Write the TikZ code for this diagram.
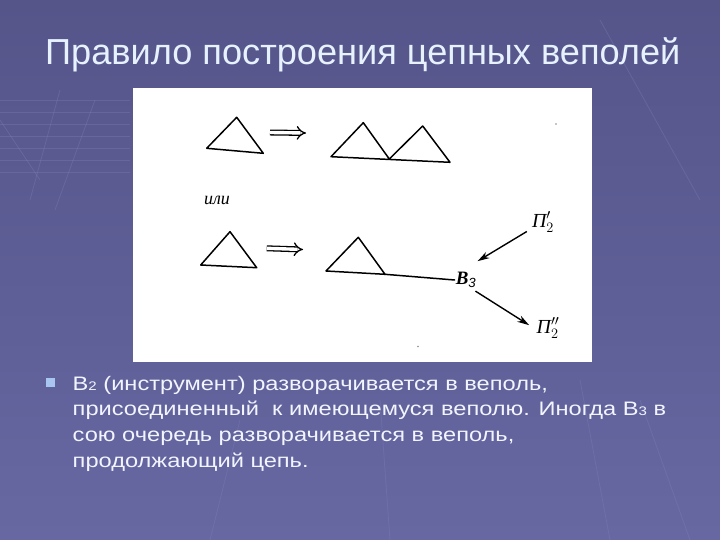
\documentclass[tikz,border=0pt]{standalone}
\usepackage{fontspec}
\setmainfont{Liberation Sans}
\newfontfamily\serifit{Liberation Serif}
\newfontfamily\bodyfont[FakeStretch=1.21]{Liberation Sans}
\usetikzlibrary{arrows.meta}
\definecolor{bgtop}{HTML}{55558A}
\definecolor{bgbot}{HTML}{6767A2}
\definecolor{titlecol}{HTML}{E6F2FF}
\definecolor{bodycol}{HTML}{F2F4FF}
\definecolor{bulletcol}{HTML}{A9C6F0}
\definecolor{gridcol}{HTML}{8080B8}
\tikzset{
  ln/.style={line width=1.5pt, line join=round, line cap=round},
  dbl/.style={double, double distance=3.4pt, line width=1.3pt, -{Implies[scale=1.7]}},
  sarrow/.style={line width=1.4pt, -{Stealth[length=12pt,width=7pt]}, shorten >=1pt},
  lab/.style={font=\serifit\itshape\fontsize{20}{22}\selectfont, inner sep=1pt},
  bodyline/.style={anchor=base west, inner sep=0, text=bodycol, font=\bodyfont\fontsize{19.6}{24}\selectfont},
  speck/.style={fill=black!45, draw=none}
}
\newcommand{\smalldig}[1]{{\fontsize{12.5}{14}\selectfont #1}}
\begin{document}
\begin{tikzpicture}[x=1bp, y=-1bp]
\useasboundingbox (0,0) rectangle (720,540);
% background
\shade[top color=bgtop, bottom color=bgbot] (0,0) rectangle (720,540);
\begin{scope}[draw=gridcol, opacity=0.35, line width=0.8pt]
  \foreach \yy in {100,112,124,136,148,160,172} \draw (0,\yy) -- (130,\yy);
  \draw (0,120) -- (40,180);
  \draw (60,90) -- (30,200);
  \draw (95,100) -- (55,210);
  \draw (600,20) -- (700,200);
  \draw (640,400) -- (690,540);
  \draw (580,380) -- (610,540);
  \draw (240,420) -- (210,540);
  \draw (380,400) -- (390,540);
\end{scope}
% title
\node[anchor=base west, inner sep=0, text=titlecol, font=\fontsize{36.3}{40}\selectfont] (title) at (45,65) {Правило построения цепных веполей};
% white diagram panel
\fill[white] (133,88) rectangle (592,362);
% top-left triangle
\draw[ln] (206.7,148.3) -- (236.7,117.3) -- (263.3,153.3) -- cycle;
\coordinate (da1) at (270,132.5);
\coordinate (db1) at (306,133);
\draw[dbl] (da1) -- (db1);
% double triangle
\draw[ln] (331,156.7) -- (363.3,122.7) -- (389.3,159) -- (422.7,126) -- (450,162.3) -- cycle;
% "или"
\node[anchor=base west, inner sep=0, font=\serifit\itshape\fontsize{18}{20}\selectfont] (ili) at (204,205) {или};
% bottom-left triangle
\draw[ln] (200.7,265) -- (230,231.7) -- (256.7,267.7) -- cycle;
\coordinate (da2) at (266.7,248.3);
\coordinate (db2) at (303,249.5);
\draw[dbl] (da2) -- (db2);
% triangle with tail
\node[lab, font=\serifit\bfseries\itshape\fontsize{19}{22}\selectfont] (b3) at (466,280) {В$_{\mathit{3}}$};
\draw[ln] (326,271) -- (358.3,237.3) -- (385,274.3) -- cycle;
\draw[ln] (385,274.3) -- (b3.west);
% П'2 and П''2
\node[lab] (p1) at (543,222) {П$'_{2}$};
\node[lab] (p2) at (548,328) {П$''_{2}$};
\draw[sarrow] (p1.south west) ++(-4,-2) coordinate (p1s) -- (476.7,261.7) coordinate (b3n);
\draw[sarrow] (b3.south east) ++(-2,2) coordinate (b3s) -- (530,325.7) coordinate (p2w);
% specks
\fill[speck] (556,124) circle (0.8);
\fill[speck] (418,346.5) circle (0.9);
% bullet
\fill[bulletcol] (45.5,378) rectangle (54.5,387);
\node[bodyline] (body1) at (72.5,390) {В\smalldig{2} (инструмент) разворачивается в веполь,};
\node[bodyline] (body2) at (72.5,415.7) {присоединенный\ \ к имеющемуся веполю. Иногда В\smalldig{3} в};
\node[bodyline] (body3) at (72.5,441.4) {сою очередь разворачивается в веполь,};
\node[bodyline] (body4) at (72.5,467.1) {продолжающий цепь.};
\end{tikzpicture}
\end{document}
